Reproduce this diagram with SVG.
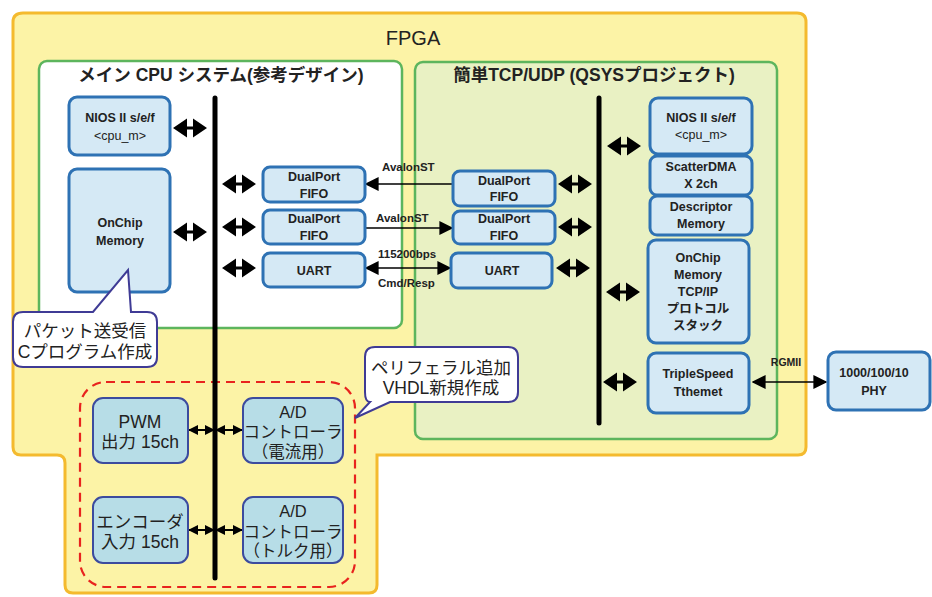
<svg xmlns="http://www.w3.org/2000/svg" width="932" height="597" viewBox="0 0 932 597">
<defs>
<style>
.fpga{fill:#FCF3A6;stroke:#F4BA2E;stroke-width:3}
.cpu{fill:#FFFFFF;stroke:#5DB55D;stroke-width:2.5}
.tcp{fill:#E9F1C3;stroke:#5DB55D;stroke-width:2.5}
.nd{fill:#D5E9F5;stroke:#2E72B4;stroke-width:3}
.bn{fill:#B7DDE7;stroke:#3C4B9E;stroke-width:2}
.co{fill:#FFFFFF;stroke:#3F3B95;stroke-width:2}
.dash{fill:none;stroke:#E8231E;stroke-width:2.2;stroke-dasharray:9 6}
.bus{stroke:#000;stroke-width:5;stroke-linecap:round}
.ln{stroke:#000;stroke-width:1.5;fill:none}
.ln2{stroke:#000;stroke-width:2;fill:none}
text{font-family:"Liberation Sans","Noto Sans CJK JP",sans-serif;text-anchor:middle;fill:#222}
.t{font-size:12.5px;font-weight:bold}
.tl{font-size:11.5px;font-weight:bold;text-anchor:start}
.big{font-size:17.5px}
.sec{font-size:17.5px;font-weight:bold}
</style>
<path id="dbl" d="M0,0 L14,-9.5 L14,-1.5 L20,-1.5 L20,-9.5 L34,0 L20,9.5 L20,1.5 L14,1.5 L14,9.5 Z" fill="#000"/>
<marker id="ah" viewBox="0 0 10 10" refX="9" refY="5" markerWidth="10" markerHeight="11" markerUnits="userSpaceOnUse" orient="auto-start-reverse"><path d="M0,0 L10,5 L0,10 Z" fill="#000"/></marker>
<marker id="ahb" viewBox="0 0 10 10" refX="9" refY="5" markerWidth="14" markerHeight="16" markerUnits="userSpaceOnUse" orient="auto-start-reverse"><path d="M0,0 L10,5 L0,10 Z" fill="#000"/></marker>
</defs>

<g id="fpga">
<path class="fpga" d="M23,13 L797,13 Q806,13 806,22 L806,447 Q806,455 798,455 L377,455 L377,585 Q377,593 369,593 L73,593 Q65,593 65,585 L65,463 Q65,455 57,455 L21,455 Q13,455 13,447 L13,22 Q13,13 23,13 Z"/>
<text x="413" y="45" style="font-size:20px">FPGA</text>
</g>

<g id="main-cpu">
<rect class="cpu" x="39" y="61" width="363" height="267" rx="8"/>
<text class="sec" x="221" y="81">メイン CPU システム(参考デザイン)</text>
</g>

<g id="tcp-udp">
<rect class="tcp" x="415" y="62" width="362" height="377" rx="8"/>
<text class="sec" x="594" y="81">簡単TCP/UDP (QSYSプロジェクト)</text>
</g>

<g id="peripheral-area">
<rect class="dash" x="80" y="382" width="275" height="205" rx="26"/>
</g>

<g id="connectors">
<line class="bus" x1="215" y1="98" x2="215" y2="578"/>
<line class="bus" x1="599" y1="98" x2="599" y2="423"/>
<use href="#dbl" x="173" y="128"/>
<use href="#dbl" x="173" y="232"/>
<use href="#dbl" x="222" y="184"/>
<use href="#dbl" x="222" y="227"/>
<use href="#dbl" x="222" y="268"/>
<use href="#dbl" x="558" y="184"/>
<use href="#dbl" x="558" y="227"/>
<use href="#dbl" x="556" y="268"/>
<use href="#dbl" x="607" y="146"/>
<use href="#dbl" x="606" y="292"/>
<use href="#dbl" x="603" y="382"/>
<line class="ln" x1="453" y1="184" x2="366" y2="184" marker-end="url(#ahb)"/>
<line class="ln" x1="365" y1="228" x2="452" y2="228" marker-end="url(#ahb)"/>
<line class="ln" x1="366" y1="268" x2="450" y2="268" marker-start="url(#ahb)" marker-end="url(#ahb)"/>
<line class="ln" x1="753" y1="382" x2="826" y2="382" marker-start="url(#ahb)" marker-end="url(#ahb)"/>
<line class="ln2" x1="189" y1="430" x2="214" y2="430" marker-start="url(#ah)" marker-end="url(#ah)"/>
<line class="ln2" x1="216" y1="430" x2="242" y2="430" marker-start="url(#ah)" marker-end="url(#ah)"/>
<line class="ln2" x1="189" y1="530" x2="214" y2="530" marker-start="url(#ah)" marker-end="url(#ah)"/>
<line class="ln2" x1="216" y1="530" x2="242" y2="530" marker-start="url(#ah)" marker-end="url(#ah)"/>
<text class="tl" x="382" y="171">AvalonST</text>
<text class="tl" x="376" y="222">AvalonST</text>
<text class="tl" x="378" y="258">115200bps</text>
<text class="tl" x="378" y="287">Cmd/Resp</text>
<text x="786" y="366" style="font-size:10.5px;font-weight:bold">RGMII</text>
</g>

<g id="nios-left">
<rect class="nd" x="69" y="97" width="101" height="58" rx="8"/>
<text class="t" x="120" y="122">NIOS II s/e/f</text>
<text class="t" x="120" y="140" style="font-weight:normal">&lt;cpu_m&gt;</text>
</g>
<g id="onchip-left">
<rect class="nd" x="69" y="169" width="101" height="123" rx="8"/>
<text class="t" x="120" y="227">OnChip</text>
<text class="t" x="120" y="245">Memory</text>
</g>
<g id="fifo-l1">
<rect class="nd" x="263" y="167" width="102" height="35" rx="7"/>
<text class="t" x="314" y="181">DualPort</text>
<text class="t" x="314" y="198">FIFO</text>
</g>
<g id="fifo-l2">
<rect class="nd" x="263" y="210" width="102" height="34" rx="7"/>
<text class="t" x="314" y="223">DualPort</text>
<text class="t" x="314" y="240">FIFO</text>
</g>
<g id="uart-l">
<rect class="nd" x="263" y="253" width="102" height="34" rx="7"/>
<text class="t" x="314" y="275">UART</text>
</g>
<g id="fifo-r1">
<rect class="nd" x="453" y="171" width="102" height="35" rx="7"/>
<text class="t" x="504" y="185">DualPort</text>
<text class="t" x="504" y="201">FIFO</text>
</g>
<g id="fifo-r2">
<rect class="nd" x="453" y="211" width="102" height="33" rx="7"/>
<text class="t" x="504" y="223">DualPort</text>
<text class="t" x="504" y="240">FIFO</text>
</g>
<g id="uart-r">
<rect class="nd" x="451" y="253" width="101" height="35" rx="7"/>
<text class="t" x="502" y="275">UART</text>
</g>
<g id="nios-right">
<rect class="nd" x="650" y="98" width="102" height="56" rx="8"/>
<text class="t" x="701" y="122">NIOS II s/e/f</text>
<text class="t" x="701" y="139" style="font-weight:normal">&lt;cpu_m&gt;</text>
</g>
<g id="scatter-dma">
<rect class="nd" x="650" y="156" width="102" height="39" rx="7"/>
<text class="t" x="701" y="171">ScatterDMA</text>
<text class="t" x="701" y="188">X 2ch</text>
</g>
<g id="descriptor">
<rect class="nd" x="650" y="196" width="102" height="39" rx="7"/>
<text class="t" x="701" y="211">Descriptor</text>
<text class="t" x="701" y="228">Memory</text>
</g>
<g id="onchip-tcp">
<rect class="nd" x="648" y="240" width="101" height="103" rx="8"/>
<text class="t" x="698" y="262">OnChip</text>
<text class="t" x="698" y="279">Memory</text>
<text class="t" x="698" y="296">TCP/IP</text>
<text class="t" x="698" y="313">プロトコル</text>
<text class="t" x="698" y="330">スタック</text>
</g>
<g id="triplespeed">
<rect class="nd" x="648" y="353" width="101" height="60" rx="8"/>
<text class="t" x="698" y="378">TripleSpeed</text>
<text class="t" x="698" y="396">Tthemet</text>
</g>
<g id="phy">
<rect class="nd" x="828" y="352" width="102" height="58" rx="8"/>
<text class="t" x="874" y="377">1000/100/10</text>
<text class="t" x="874" y="395">PHY</text>
</g>

<g id="pwm">
<rect class="bn" x="93" y="398" width="95" height="65" rx="10"/>
<text class="big" x="140" y="428">PWM</text>
<text class="big" x="140" y="448">出力 15ch</text>
</g>
<g id="ad-current">
<rect class="bn" x="243" y="398" width="100" height="65" rx="10"/>
<text x="293" y="418" style="font-size:16.5px">A/D</text>
<text x="293" y="438" style="font-size:16.5px">コントローラ</text>
<text x="293" y="458" style="font-size:16.5px">（電流用）</text>
</g>
<g id="encoder">
<rect class="bn" x="93" y="497" width="95" height="66" rx="10"/>
<text class="big" x="140" y="528">エンコーダ</text>
<text class="big" x="140" y="548">入力  15ch</text>
</g>
<g id="ad-torque">
<rect class="bn" x="243" y="497" width="100" height="66" rx="10"/>
<text x="293" y="517" style="font-size:16.5px">A/D</text>
<text x="293" y="538" style="font-size:16.5px">コントローラ</text>
<text x="293" y="557" style="font-size:16.5px">（トルク用）</text>
</g>

<g id="callout-packet">
<path class="co" d="M23,312 L93,312 L128,270 L131,312 L147,312 Q157,312 157,322 L157,357 Q157,367 147,367 L23,367 Q13,367 13,357 L13,322 Q13,312 23,312 Z"/>
<text class="big" x="85" y="337">パケット送受信</text>
<text class="big" x="85" y="358">Cプログラム作成</text>
</g>
<g id="callout-vhdl">
<path class="co" d="M375,347 L508,347 Q518,347 518,357 L518,392 Q518,402 508,402 L390,402 L355,418 L370,402 Q365,402 365,392 L365,357 Q365,347 375,347 Z"/>
<text class="big" x="441" y="374">ペリフェラル追加</text>
<text class="big" x="441" y="394">VHDL新規作成</text>
</g>
</svg>
